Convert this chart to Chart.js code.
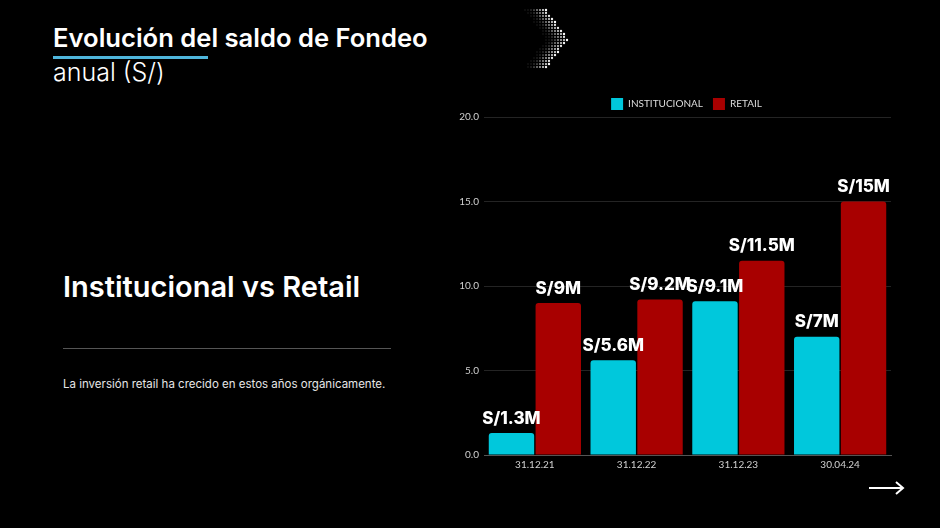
<!DOCTYPE html>
<html>
<head>
<meta charset="utf-8">
<script src="https://cdn.jsdelivr.net/npm/chart.js@4.4.0/dist/chart.umd.min.js"></script>
<style>
    html, body { margin: 0; padding: 0; background: #000; }
    body { width: 940px; height: 528px; position: relative; overflow: hidden; font-family: 'Inter', sans-serif; color: #fff; }
    .title { position: absolute; left: 53px; top: 22px; font-size: 25.6px; font-weight: 600; }
    .underline { position: absolute; left: 53px; top: 56px; width: 155px; height: 3px; background: #4fb6dc; }
    .subtitle { position: absolute; left: 53px; top: 57px; font-size: 25px; font-weight: 300; }
    .heading { position: absolute; left: 63px; top: 269px; font-size: 29px; font-weight: 600; }
    .rule { position: absolute; left: 63px; top: 348px; width: 328px; height: 1px; background: #555; }
    .para { position: absolute; left: 63px; top: 377px; font-size: 11.5px; color: #e6e6e6; }
    #wrap { position: absolute; left: 440px; top: 88px; width: 460px; height: 400px; }
    #deco { position: absolute; left: 520px; top: 8px; }
    #arrow { position: absolute; left: 866px; top: 478px; }
</style>
</head>
<body>
<div class="title">Evolución del saldo de Fondeo</div>
<div class="underline"></div>
<div class="subtitle">anual (S/)</div>
<div class="heading">Institucional vs Retail</div>
<div class="rule"></div>
<div class="para">La inversión retail ha crecido en estos años orgánicamente.</div>
<canvas id="deco" width="54" height="62"></canvas>
<svg id="arrow" width="42" height="20">
    <line x1="3" y1="10" x2="37" y2="10" stroke="#fff" stroke-width="2"/>
    <polyline points="30,4 37,10 30,16" fill="none" stroke="#fff" stroke-width="2"/>
</svg>
<div id="wrap"><canvas id="myChart"></canvas></div>
<script>
const labels = ['31.12.21', '31.12.22', '31.12.23', '30.04.24'];
const institucional = [1.3, 5.6, 9.1, 7];
const retail = [9, 9.2, 11.5, 15];
const yTicks = [0, 5, 10, 15, 20];

// dotted chevron decoration
(function () {
    const c = document.getElementById('deco').getContext('2d');
    for (let y = 2; y < 62; y += 3) {
        for (let x = 2; x < 54; x += 3) {
            const d = Math.abs(y - 31);
            const edge = 48 - d * 0.75;
            if (x < edge && x > edge - 22) {
                const a = Math.max(0.15, Math.min(1, (x - (edge - 22)) / 22));
                c.fillStyle = 'rgba(255,255,255,' + a.toFixed(2) + ')';
                c.beginPath();
                c.arc(x, y, 0.6 + a * 0.6, 0, Math.PI * 2);
                c.fill();
            }
        }
    }
})();

const valueLabels = {
    id: 'valueLabels',
    afterDatasetsDraw(chart) {
        const ctx = chart.ctx;
        ctx.save();
        ctx.fillStyle = '#fff';
        ctx.font = '800 17px Inter, sans-serif';
        ctx.textAlign = 'center';
        ctx.textBaseline = 'bottom';
        chart.data.datasets.forEach((ds, i) => {
            chart.getDatasetMeta(i).data.forEach((bar, j) => {
                ctx.fillText('S/' + ds.data[j] + 'M', bar.x, bar.y - 6);
            });
        });
        ctx.restore();
    }
};

// center the legend over the plot area
const legendShift = {
    id: 'legendShift',
    afterLayout(chart) {
        const lg = chart.legend;
        const w = lg.right - lg.left;
        const c = (chart.chartArea.left + chart.chartArea.right) / 2 - 1;
        lg.left = c - w / 2;
        lg.right = c + w / 2;
    }
};

const data = {
    labels: labels,
    datasets: [{
            label: 'INSTITUCIONAL',
            data: institucional,
            backgroundColor: '#00c8dc',
            borderRadius: {topLeft: 3, topRight: 3},
            borderSkipped: 'bottom'
        }, {
            label: 'RETAIL',
            data: retail,
            backgroundColor: '#a80000',
            borderRadius: {topLeft: 3, topRight: 3},
            borderSkipped: 'bottom'
        }]
};

const config = {
    type: 'bar',
    data: data,
    plugins: [valueLabels, legendShift],
    options: {
        responsive: true,
        maintainAspectRatio: false,
        animation: false,
        categoryPercentage: 0.92,
        barPercentage: 0.97,
        layout: {padding: {left: 0, right: 9, top: 0, bottom: 0}},
        plugins: {
            legend: {
                maxHeight: 29,
                labels: {
                    color: '#ddd',
                    boxWidth: 12,
                    boxHeight: 12,
                    padding: 10,
                    font: {size: 10, family: 'Lato'}
                }
            },
            tooltip: {enabled: false}
        },
        scales: {
            y: {
                min: 0,
                max: 20,
                afterFit: (s) => { s.width = 44; },
                afterBuildTicks: (s) => { s.ticks = yTicks.map(v => ({value: v})); },
                border: {display: false},
                grid: {color: '#242424', drawTicks: false},
                ticks: {
                    color: '#d0d0d0',
                    padding: 5,
                    font: {size: 10, family: 'Lato'},
                    callback: (v) => v.toFixed(1)
                }
            },
            x: {
                afterFit: (s) => { s.height = 33; },
                border: {color: '#555'},
                grid: {display: false, drawTicks: false},
                ticks: {
                    color: '#d0d0d0',
                    padding: 4,
                    font: {size: 10, family: 'Lato'}
                }
            }
        }
    }
};

var ctx = document.getElementById('myChart');
const myChart = new Chart(ctx, config);
</script>
</body>
</html>
